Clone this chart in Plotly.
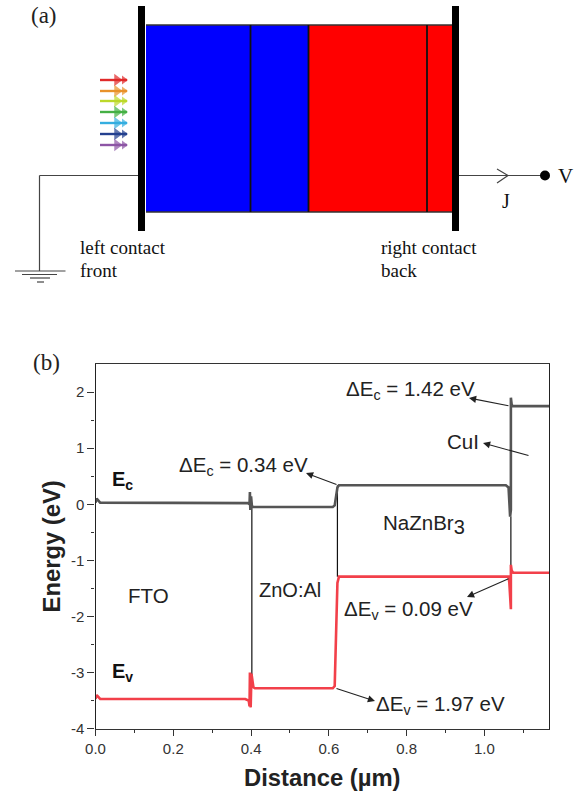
import plotly.graph_objects as go

W, H = 577, 796

# ---- panel (b) data: band diagram, distance in um, energy in eV
ec_x = [0.0, 0.003, 0.012, 0.385, 0.392, 0.396, 0.397, 0.398, 0.400, 0.402, 0.404, 0.408, 0.61, 0.615, 0.622, 0.626, 1.055, 1.062, 1.064, 1.066, 1.068, 1.068, 1.070, 1.072, 1.166]
ec_y = [0.03, 0.10, 0.03, 0.03, 0.02, 0.00, 0.22, -0.10, 0.14, -0.02, -0.05, -0.05, -0.05, -0.02, 0.30, 0.34, 0.34, 0.30, 0.10, -0.22, -0.10, 1.90, 1.78, 1.75, 1.75]
ev_x = [0.0, 0.003, 0.012, 0.385, 0.394, 0.396, 0.397, 0.399, 0.401, 0.403, 0.406, 0.410, 0.61, 0.615, 0.622, 0.626, 1.055, 1.062, 1.064, 1.066, 1.068, 1.068, 1.070, 1.074, 1.166]
ev_y = [-3.47, -3.40, -3.47, -3.47, -3.50, -3.60, -3.00, -3.62, -3.02, -3.10, -3.26, -3.28, -3.28, -3.24, -1.40, -1.29, -1.29, -1.29, -1.40, -1.60, -1.87, -1.08, -1.18, -1.22, -1.22]
iface_x = [0.402, 0.402, None, 0.622, 0.622, None, 1.068, 1.068]
iface_y = [0.0, -3.05, None, 0.34, -1.29, None, -0.22, -1.30]
x_ticks = [0.0, 0.2, 0.4, 0.6, 0.8, 1.0]
y_ticks = [2, 1, 0, -1, -2, -3, -4]
x_range = [0.0, 1.166]
y_range = [-4.0, 2.5]

# ---- panel (a) data: the schematic, on a page-wide pixel scale
layer_left = [146, 250, 308, 427]
layer_width = [104, 58, 119, 26]
layer_color = ["#0000ff", "#0000ff", "#ff0000", "#ff0000"]
ray_y = [80, 91, 101, 112, 123, 134, 145]
ray_color = ["#e02a2a", "#e8922a", "#bcd82a", "#45b045", "#35aee0", "#24408f", "#8d55a5"]

page_texts = [
    ("(a)", 29, 15, 23, "Liberation Serif", "#222222"),
    ("left contact", 78, 247, 19, "Liberation Serif", "#111111"),
    ("front", 78, 270, 19, "Liberation Serif", "#111111"),
    ("right contact", 379, 247, 19, "Liberation Serif", "#111111"),
    ("back", 379, 270, 19, "Liberation Serif", "#111111"),
    ("V", 556, 176, 21, "Liberation Serif", "#111111"),
    ("J", 500, 201, 20, "Liberation Serif", "#111111"),
    ("(b)", 31, 362, 23, "Liberation Serif", "#222222"),
    ("<b>E<sub>c</sub></b>", 110, 480, 20, "Liberation Sans", "#111111"),
    ("<b>E<sub>v</sub></b>", 110, 672, 20, "Liberation Sans", "#111111"),
    ("FTO", 126, 595, 20.5, "Liberation Sans", "#222222"),
    ("ZnO:Al", 257, 590, 20, "Liberation Sans", "#222222"),
    ('NaZnBr<sub><span style="font-size:20px">3</span></sub>', 381, 524, 20.5, "Liberation Sans", "#222222"),
    ("CuI", 445, 441, 20.5, "Liberation Sans", "#222222"),
    ("ΔE<sub>c</sub> = 0.34 eV", 177, 466, 20.5, "Liberation Sans", "#222222"),
    ("ΔE<sub>c</sub> = 1.42 eV", 344, 390, 20.5, "Liberation Sans", "#222222"),
    ("ΔE<sub>v</sub> = 0.09 eV", 342, 610, 20.5, "Liberation Sans", "#222222"),
    ("ΔE<sub>v</sub> = 1.97 eV", 374, 705, 20.5, "Liberation Sans", "#222222"),
]
# tail x, tail y, head x, head y
pointers = [
    (510, 406, 469, 398),
    (530, 456, 483, 443),
    (338, 485, 306, 473),
    (510, 578, 467, 597),
    (335, 688, 375, 701),
]
wires = [
    ([39.5, 138], [175.5, 175.5]),
    ([39.5, 39.5], [175.5, 271]),
    ([15, 65.5], [271, 271]),
    ([22, 57], [274.5, 274.5]),
    ([30, 50], [278, 278]),
    ([37, 44], [282, 282]),
    ([459, 545], [175.5, 175.5]),
    ([497, 508, 497], [169, 175.5, 183]),
]
contacts_x = [141.5, 455.5]
contact_span = [6, 231]
layer_span = [25, 212]
dividers_x = [250.5, 308.5, 427]

fig = go.Figure()

# page-wide layer for schematic and labels
page = dict(xaxis="x2", yaxis="y2", showlegend=False, hoverinfo="skip")
for left, width, color in zip(layer_left, layer_width, layer_color):
    fig.add_trace(go.Bar(x=[width], base=[left], y=[sum(layer_span) / 2], width=[layer_span[1] - layer_span[0]],
                         orientation="h", marker=dict(color=color, line=dict(width=0)), **page))
fig.add_trace(go.Scatter(x=[layer_left[0], contacts_x[1]], y=[layer_span[0]] * 2, mode="lines", line=dict(color="#333333", width=1.5), **page))
fig.add_trace(go.Scatter(x=[layer_left[0], contacts_x[1]], y=[layer_span[1]] * 2, mode="lines", line=dict(color="#333333", width=1.5), **page))
for dx in dividers_x:
    fig.add_trace(go.Scatter(x=[dx, dx], y=layer_span, mode="lines", line=dict(color="#111111", width=1.8), **page))
for cx in contacts_x:
    fig.add_trace(go.Scatter(x=[cx, cx], y=contact_span, mode="lines", line=dict(color="#000000", width=7), **page))
for wx, wy in wires:
    fig.add_trace(go.Scatter(x=wx, y=wy, mode="lines", line=dict(color="#444444", width=1.2), **page))
fig.add_trace(go.Scatter(x=[545], y=[175.5], mode="markers", marker=dict(color="#000000", size=10), **page))
for ry, rc in zip(ray_y, ray_color):
    fig.add_trace(go.Scatter(x=[100, 127], y=[ry, ry], mode="lines", line=dict(color=rc, width=2.4), **page))
    fig.add_trace(go.Scatter(x=[117, 124], y=[ry, ry], mode="markers",
                             marker=dict(color=rc, size=[11, 8], symbol="triangle-right", line=dict(width=0)), **page))

# panel (b)
fig.add_trace(go.Scatter(x=iface_x, y=iface_y, mode="lines", line=dict(color="#111111", width=1.2),
                         showlegend=False, hoverinfo="skip"))
fig.add_trace(go.Scatter(x=ec_x, y=ec_y, mode="lines", name="Ec", line=dict(color="#555555", width=2.6), showlegend=False))
fig.add_trace(go.Scatter(x=ev_x, y=ev_y, mode="lines", name="Ev", line=dict(color="#f2404a", width=2.6), showlegend=False))

annotations = []
for text, x, y, size, family, color in page_texts:
    annotations.append(dict(text=text, x=x, y=y, xref="x2", yref="y2", xanchor="left", yanchor="middle",
                            showarrow=False, font=dict(size=size, family=family, color=color)))
for tx, ty, hx, hy in pointers:
    annotations.append(dict(text="", x=hx, y=hy, ax=tx, ay=ty, xref="x2", yref="y2", axref="x2", ayref="y2",
                            showarrow=True, arrowhead=2, arrowsize=1.3, arrowwidth=1.1, arrowcolor="#222222"))

fig.update_layout(
    width=W, height=H, margin=dict(l=0, r=0, t=0, b=0), autosize=False,
    paper_bgcolor="#ffffff", plot_bgcolor="rgba(0,0,0,0)", barmode="overlay", annotations=annotations,
    xaxis=dict(
        domain=[95.5 / W, 549 / W], range=x_range, tickvals=x_ticks, ticktext=[f"{v:.1f}" for v in x_ticks],
        ticks="outside", ticklen=6, tickwidth=1.2, tickcolor="#333333", showgrid=False, zeroline=False,
        showline=True, linecolor="#333333", linewidth=1.4, mirror=True, automargin=False,
        tickfont=dict(family="Liberation Sans", size=15, color="#333333"),
        minor=dict(tickvals=[0.1, 0.3, 0.5, 0.7, 0.9, 1.1], ticks="outside", ticklen=3, tickcolor="#333333", showgrid=False),
        title=dict(text="<b>Distance (µm)</b>", standoff=13, font=dict(family="Liberation Sans", size=23.8, color="#222222")),
    ),
    yaxis=dict(
        domain=[1 - 728.7 / H, 1 - 364 / H], range=y_range, tickvals=y_ticks, ticktext=[str(v) for v in y_ticks],
        ticks="outside", ticklen=7, tickwidth=1.2, tickcolor="#333333", showgrid=False, zeroline=False,
        showline=True, linecolor="#222222", linewidth=1.2, mirror=True, automargin=False,
        tickfont=dict(family="Liberation Sans", size=15, color="#333333"),
        minor=dict(tickvals=[1.5, 0.5, -0.5, -1.5, -2.5, -3.5], ticks="outside", ticklen=3.5, tickcolor="#333333", showgrid=False),
        title=dict(text="<b>Energy (eV)</b>", standoff=3, font=dict(family="Liberation Sans", size=23.8, color="#222222")),
    ),
    xaxis2=dict(domain=[0, 1], range=[0, W], visible=False, fixedrange=True, anchor="y2"),
    yaxis2=dict(domain=[0, 1], range=[H, 0], visible=False, fixedrange=True, anchor="x2"),
)

fig.write_html("out.html", config={"displayModeBar": False},
               post_script="document.body.style.margin='0';document.body.style.overflow='hidden';")
